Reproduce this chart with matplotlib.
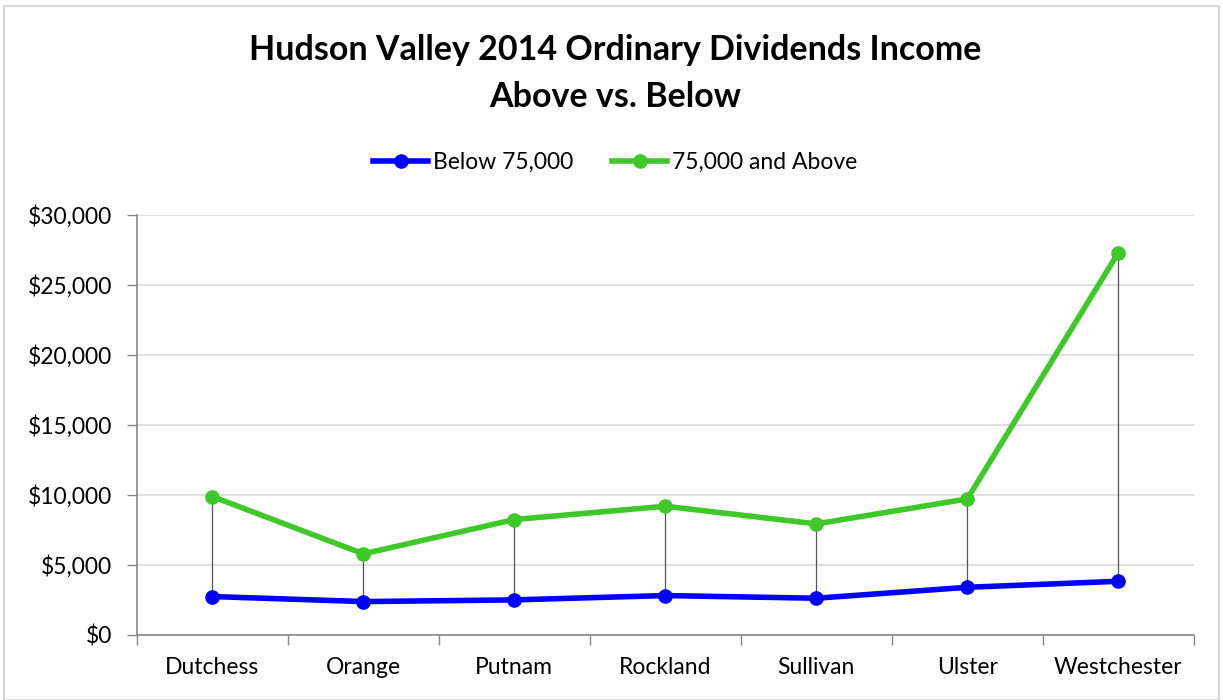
import matplotlib.pyplot as plt
from matplotlib.patches import Rectangle
from matplotlib.ticker import FuncFormatter, FixedLocator
import numpy as np

counties = ["Dutchess", "Orange", "Putnam", "Rockland", "Sullivan", "Ulster", "Westchester"]
below_75k = [2740, 2380, 2500, 2810, 2620, 3400, 3830]
above_75k = [9880, 5790, 8240, 9190, 7930, 9710, 27290]
y_ticks = [0, 5000, 10000, 15000, 20000, 25000, 30000]

plt.rcParams["font.family"] = ["Lato", "DejaVu Sans"]

fig = plt.figure(figsize=(12.23, 7), dpi=100)
fig.patches.append(Rectangle((0.003, 0.0), 0.994, 0.992, transform=fig.transFigure,
                             fill=False, edgecolor="#d0d0d0", linewidth=1.2))
ax = fig.add_axes([0.112, 0.093, 0.864, 0.6])

x = np.arange(len(counties))
# high-low lines
ax.vlines(x, below_75k, above_75k, color="#555555", linewidth=0.9, zorder=2)
ax.plot(x, below_75k, color="#0000ff", linewidth=4, marker="o", markersize=9.5,
        label="Below 75,000", zorder=3)
ax.plot(x, above_75k, color="#3fc82a", linewidth=4, marker="o", markersize=9.5,
        label="75,000 and Above", zorder=3)

ax.set_xlim(-0.5, len(counties) - 0.5)
ax.set_ylim(0, 30000)
ax.set_yticks(y_ticks)
ax.yaxis.set_major_formatter(FuncFormatter(lambda v, p: f"${v:,.0f}"))
ax.set_xticks(x)
ax.set_xticklabels(counties)
ax.xaxis.set_minor_locator(FixedLocator(np.arange(-0.5, len(counties), 1.0)))
ax.tick_params(axis="x", which="major", length=0, pad=16, labelsize=16.5)
ax.tick_params(axis="x", which="minor", length=7, color="#888888", width=1)
ax.tick_params(axis="y", length=7, color="#888888", width=1, labelsize=16.5, pad=11)

ax.grid(axis="y", color="#d9d9d9", linewidth=1.2)
ax.set_axisbelow(True)
for s in ["top", "right"]:
    ax.spines[s].set_visible(False)
for s in ["left", "bottom"]:
    ax.spines[s].set_color("#888888")
    ax.spines[s].set_linewidth(1.2)

fig.text(0.503, 0.928, "Hudson Valley 2014 Ordinary Dividends Income", ha="center", va="center",
         fontsize=24.5, fontweight="bold")
fig.text(0.503, 0.861, "Above vs. Below", ha="center", va="center",
         fontsize=24.5, fontweight="bold")

fig.legend(loc="center", bbox_to_anchor=(0.503, 0.768), ncol=2, frameon=False,
           fontsize=16.5, handlelength=2.4, handletextpad=0.2, columnspacing=1.7)

fig.savefig("out.png", dpi=100)
